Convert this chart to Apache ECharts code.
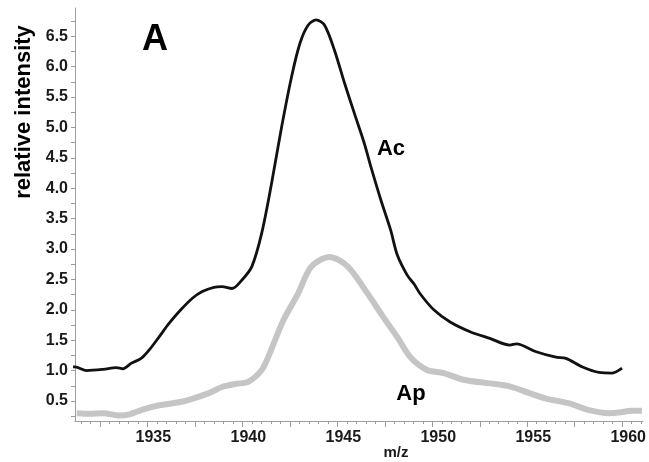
<!DOCTYPE html>
<html>
<head>
<meta charset="utf-8">
<script src="https://cdn.jsdelivr.net/npm/echarts@6/dist/echarts.min.js"></script>
<style>
  html, body { margin: 0; padding: 0; background: #fff; }
  #chart { width: 649px; height: 462px; }
</style>
</head>
<body>
<div id="chart"></div>
<script>
// m/z positions and relative intensities of the two traces
const acMz = [1930.65, 1931.19, 1931.80, 1932.67, 1933.37, 1933.71, 1934.15, 1934.67, 1935.10, 1935.63,
  1936.15, 1936.76, 1937.37, 1937.89, 1938.50, 1938.93, 1939.45, 1939.98, 1940.50, 1941.02,
  1941.54, 1942.07, 1942.59, 1943.03, 1943.46, 1943.89, 1944.33, 1944.85, 1945.38, 1945.90,
  1946.42, 1946.77, 1947.29, 1947.81, 1948.16, 1948.68, 1949.05, 1949.37, 1950.08, 1950.94, 1951.99,
  1953.03, 1954.08, 1954.43, 1955.47, 1956.51, 1957.04, 1957.91, 1958.78, 1959.48, 1959.99];
const acIntensity = [1.06, 1.06, 1.00, 1.02, 1.05, 1.03, 1.12, 1.20, 1.34, 1.56,
  1.78, 2.00, 2.19, 2.30, 2.37, 2.38, 2.35, 2.49, 2.71, 3.26,
  4.08, 5.01, 5.83, 6.38, 6.68, 6.77, 6.68, 6.27, 5.73, 5.23,
  4.74, 4.35, 3.81, 3.31, 2.90, 2.57, 2.42, 2.26, 2.00, 1.80, 1.64,
  1.53, 1.42, 1.44, 1.31, 1.22, 1.20, 1.06, 0.97, 0.96, 1.04];

const apMz = [1931.28, 1931.97, 1932.67, 1933.54, 1934.06, 1934.75, 1935.63, 1936.50, 1937.19, 1938.24,
  1938.93, 1939.63, 1940.33, 1941.02, 1941.37, 1942.15, 1942.94, 1943.63, 1944.59, 1945.55,
  1946.59, 1947.38, 1948.16, 1948.85, 1949.73, 1950.60, 1951.64, 1953.03, 1954.07, 1955.12,
  1955.99, 1957.21, 1958.25, 1959.30, 1959.82, 1960.52, 1961.04];
const apIntensity = [0.30, 0.29, 0.30, 0.26, 0.28, 0.36, 0.43, 0.47, 0.52, 0.63,
  0.73, 0.78, 0.82, 1.01, 1.23, 1.82, 2.27, 2.71, 2.87, 2.71,
  2.27, 1.90, 1.55, 1.22, 1.01, 0.96, 0.85, 0.79, 0.74, 0.63,
  0.54, 0.46, 0.35, 0.30, 0.31, 0.34, 0.34];

// axis tick labels
const xTickLabels = [1935, 1940, 1945, 1950, 1955, 1960];
const yTickLabels = [0.5, 1.0, 1.5, 2.0, 2.5, 3.0, 3.5, 4.0, 4.5, 5.0, 5.5, 6.0, 6.5];

// tick marks
const xMinorTicks = [];
for (let v = 1931.5; v <= 1961; v += 0.5) xMinorTicks.push(v);
const xMajorTicks = [];
for (let v = 1932.5; v <= 1961; v += 2.5) xMajorTicks.push(v);
const yTicks = [];
for (let v = 0.25; v <= 6.9; v += 0.25) yTicks.push(+v.toFixed(2));

const FONT = 'Liberation Sans, Arial, Helvetica, sans-serif';
const AXIS_GRAY = '#9c9c9c';

const pairs = (xs, ys) => xs.map((x, i) => [x, ys[i]]);

const chart = echarts.init(document.getElementById('chart'), null, { renderer: 'canvas' });

chart.setOption({
  animation: false,
  backgroundColor: '#ffffff',
  grid: { left: 75, right: 1, top: 8, bottom: 41 },
  xAxis: [
    {
      type: 'value',
      min: 1931.19,
      max: 1961.1,
      axisLine: { show: true, lineStyle: { color: AXIS_GRAY, width: 1 } },
      axisTick: { show: true, customValues: xMinorTicks, length: 3, lineStyle: { color: AXIS_GRAY } },
      axisLabel: {
        customValues: xTickLabels,
        color: '#1a1a1a',
        fontFamily: FONT,
        fontWeight: 'bold',
        fontSize: 16,
        margin: 9,
        padding: [0, 0, 0, 12],
        formatter: v => String(Math.round(v))
      },
      splitLine: { show: false }
    },
    {
      type: 'value',
      position: 'bottom',
      min: 1931.19,
      max: 1961.1,
      axisLine: { show: false },
      axisTick: { show: true, customValues: xMajorTicks, length: 6, lineStyle: { color: AXIS_GRAY } },
      axisLabel: { show: false },
      splitLine: { show: false }
    }
  ],
  yAxis: {
    type: 'value',
    min: 0.171,
    max: 6.964,
    axisLine: { show: true, lineStyle: { color: AXIS_GRAY, width: 1 } },
    axisTick: { show: true, customValues: yTicks, length: 4, lineStyle: { color: AXIS_GRAY } },
    axisLabel: {
      customValues: yTickLabels,
      color: '#1a1a1a',
      fontFamily: FONT,
      fontWeight: 'bold',
      fontSize: 16,
      margin: 7,
      formatter: v => v.toFixed(1)
    },
    splitLine: { show: false }
  },
  series: [
    {
      name: 'Ap',
      type: 'line',
      xAxisIndex: 0,
      data: pairs(apMz, apIntensity),
      showSymbol: false,
      smooth: 0.3,
      lineStyle: { color: '#c5c5c5', width: 6 },
      z: 2
    },
    {
      name: 'Ac',
      type: 'line',
      xAxisIndex: 0,
      data: pairs(acMz, acIntensity),
      showSymbol: false,
      smooth: 0.3,
      clip: false,
      lineStyle: { color: '#111111', width: 2.8 },
      z: 3
    }
  ],
  graphic: [
    {
      type: 'text', x: 155, y: 40,
      style: { text: 'A', font: 'bold 36px ' + FONT, fill: '#000', align: 'center', verticalAlign: 'middle' }
    },
    {
      type: 'text', x: 391, y: 149,
      style: { text: 'Ac', font: 'bold 22px ' + FONT, fill: '#000', align: 'center', verticalAlign: 'middle' }
    },
    {
      type: 'text', x: 411, y: 394,
      style: { text: 'Ap', font: 'bold 22px ' + FONT, fill: '#000', align: 'center', verticalAlign: 'middle' }
    },
    {
      type: 'text', x: 396, y: 453,
      style: { text: 'm/z', font: 'bold 15px ' + FONT, fill: '#1a1a1a', align: 'center', verticalAlign: 'middle' }
    },
    {
      type: 'text', x: 24, y: 112, rotation: Math.PI / 2,
      style: { text: 'relative intensity', font: 'bold 22px ' + FONT, fill: '#000', align: 'center', verticalAlign: 'middle' }
    }
  ]
});
</script>
</body>
</html>
